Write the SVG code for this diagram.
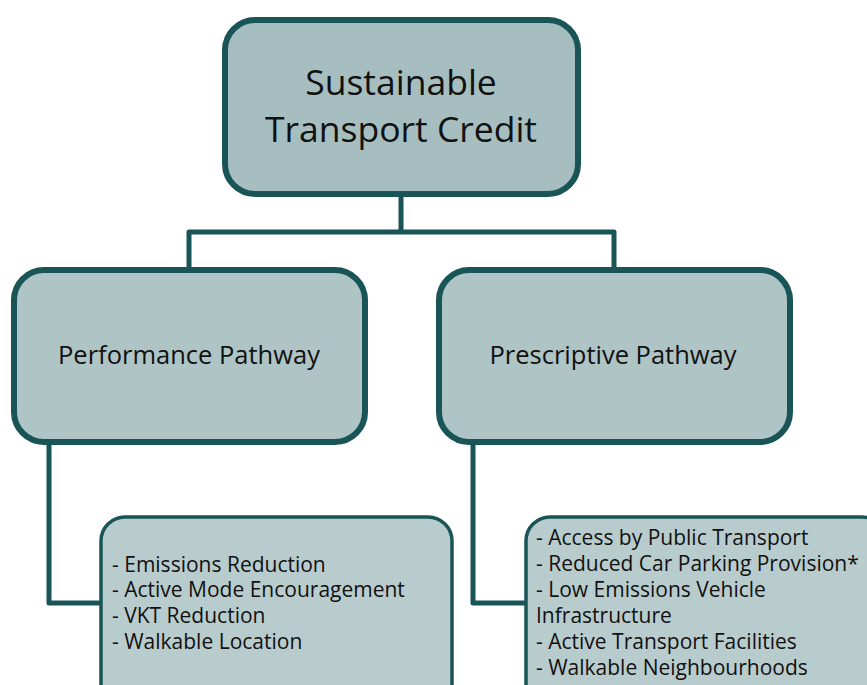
<svg xmlns="http://www.w3.org/2000/svg" width="867" height="685" viewBox="0 0 867 685">
  <style>
    .box { stroke: #195457; }
    .top { fill: #a6bec0; stroke-width: 6; }
    .mid { fill: #aec4c5; stroke-width: 6; }
    .leaf { fill: #b9cccd; stroke-width: 3.5; }
    .wire { fill: none; stroke: #195457; stroke-width: 5; stroke-linejoin: round; }
    text { font-family: "Open Sans", "Liberation Sans", sans-serif; fill: #111; }
    .t1 { font-size: 35.5px; text-anchor: middle; }
    .t2 { font-size: 25.5px; text-anchor: middle; }
    .t3 { font-size: 21px; }
  </style>
  <rect width="867" height="685" fill="#ffffff"/>

  <!-- connectors -->
  <g id="connectors">
    <path class="wire" d="M401 195 V232 M189 268 V232 H614 V268"/>
    <path class="wire" d="M49 443 V603 H101"/>
    <path class="wire" d="M473 443 V603 H526"/>
  </g>

  <g id="root">
    <rect class="box top" x="225" y="20" width="353" height="174" rx="30"/>
    <text class="t1" x="401" y="95">Sustainable</text>
    <text class="t1" x="401" y="142">Transport Credit</text>
  </g>

  <g id="performance">
    <rect class="box mid" x="14" y="270" width="351" height="172" rx="30"/>
    <text class="t2" x="189" y="364">Performance Pathway</text>
  </g>

  <g id="prescriptive">
    <rect class="box mid" x="439" y="270" width="351" height="172" rx="30"/>
    <text class="t2" x="613" y="364">Prescriptive Pathway</text>
  </g>

  <g id="performance-items">
    <rect class="box leaf" x="101" y="517" width="351" height="200" rx="24"/>
    <text class="t3" x="112" y="572">- Emissions Reduction</text>
    <text class="t3" x="112" y="597">- Active Mode Encouragement</text>
    <text class="t3" x="112" y="623">- VKT Reduction</text>
    <text class="t3" x="112" y="649">- Walkable Location</text>
  </g>

  <g id="prescriptive-items">
    <rect class="box leaf" x="526" y="517" width="360" height="200" rx="24"/>
    <text class="t3" x="536" y="545">- Access by Public Transport</text>
    <text class="t3" x="536" y="571">- Reduced Car Parking Provision*</text>
    <text class="t3" x="536" y="597">- Low Emissions Vehicle</text>
    <text class="t3" x="536" y="623">Infrastructure</text>
    <text class="t3" x="536" y="649">- Active Transport Facilities</text>
    <text class="t3" x="536" y="675">- Walkable Neighbourhoods</text>
  </g>
</svg>
